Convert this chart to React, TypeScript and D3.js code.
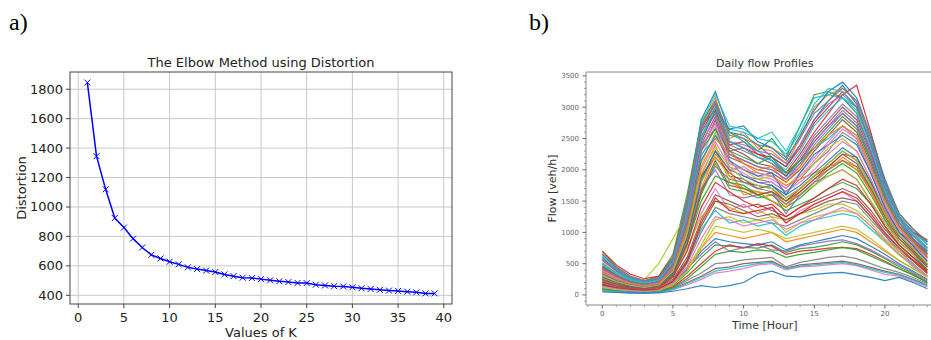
import React from "react";
import * as d3 from "d3";

// ---- panel a: elbow curve ----
const kValues = [
  1, 2, 3, 4, 5, 6, 7, 8, 9, 10, 11, 12, 13, 14, 15, 16, 17, 18, 19, 20,
  21, 22, 23, 24, 25, 26, 27, 28, 29, 30, 31, 32, 33, 34, 35, 36, 37, 38, 39,
];
const distortions = [
  1845, 1345, 1120, 925, 860, 785, 725, 675, 650, 628, 610, 590, 578, 568, 558,
  542, 530, 520, 517, 510, 502, 495, 490, 484, 483, 472, 467, 462, 460, 455,
  448, 443, 437, 432, 430, 425, 420, 413, 413,
];
const kTicks = [0, 5, 10, 15, 20, 25, 30, 35, 40];
const distTicks = [400, 600, 800, 1000, 1200, 1400, 1600, 1800];

// ---- panel b: daily flow profiles (veh/h per hour 0..23) ----
const hours = [
  0, 1, 2, 3, 4, 5, 6, 7, 8, 9, 10, 11, 12, 13, 14, 15, 16, 17, 18, 19, 20, 21, 22, 23,
];
const hourTicks = [0, 5, 10, 15, 20];
const flowTicks = [0, 500, 1000, 1500, 2000, 2500, 3000, 3500];

const profiles: number[][] = [
  [600, 380, 260, 200, 280, 600, 1500, 2800, 3250, 2600, 2550, 2400, 2200, 2050, 2400, 2800, 3100, 3350, 3050, 2400, 1700, 1250, 1000, 850],
  [520, 350, 240, 190, 250, 550, 1400, 2700, 3150, 2500, 2600, 2350, 2300, 2100, 2500, 3000, 3200, 3300, 3100, 2500, 1800, 1300, 1050, 800],
  [700, 450, 300, 230, 300, 650, 1600, 2750, 3100, 2550, 2500, 2300, 2500, 2200, 2700, 3200, 3250, 3150, 2900, 2300, 1650, 1200, 950, 750],
  [450, 300, 200, 160, 220, 500, 1300, 2600, 3000, 2400, 2450, 2250, 2150, 1950, 2250, 2600, 2900, 3200, 3350, 2600, 1800, 1250, 900, 700],
  [380, 260, 180, 140, 200, 480, 1250, 2500, 2900, 2300, 2350, 2200, 2100, 1900, 2200, 2550, 2800, 3050, 2850, 2300, 1600, 1150, 900, 650],
  [400, 280, 190, 150, 200, 450, 1200, 2300, 2800, 2200, 2100, 2000, 1950, 1800, 2000, 2300, 2550, 2800, 2600, 2100, 1500, 1100, 850, 600],
  [350, 240, 170, 130, 180, 420, 1100, 2200, 2700, 2000, 2050, 1900, 1850, 1700, 1950, 2200, 2450, 2700, 2500, 2000, 1450, 1050, 800, 580],
  [550, 380, 260, 200, 240, 500, 1300, 2400, 2650, 2150, 1900, 1850, 1800, 1650, 1850, 2100, 2300, 2600, 2450, 1950, 1400, 1000, 800, 600],
  [300, 200, 150, 120, 160, 380, 1000, 2100, 2600, 2100, 2000, 1850, 1900, 1750, 1900, 2100, 2350, 2500, 2300, 1850, 1350, 950, 750, 500],
  [480, 320, 220, 170, 210, 450, 1150, 2250, 2500, 2600, 2450, 2300, 2150, 1900, 2100, 2350, 2500, 2700, 2550, 2050, 1500, 1100, 900, 700],
  [250, 170, 120, 100, 140, 350, 900, 1800, 2300, 1900, 1850, 1700, 1750, 1550, 1700, 1900, 2100, 2300, 2150, 1750, 1300, 950, 700, 450],
  [320, 220, 160, 120, 160, 380, 950, 1900, 2400, 1800, 1700, 1650, 1600, 1450, 1650, 1850, 2000, 2200, 2050, 1650, 1200, 900, 700, 500],
  [200, 140, 100, 80, 120, 300, 800, 1600, 2100, 1700, 1650, 1550, 1600, 1400, 1550, 1750, 1950, 2100, 1950, 1600, 1200, 850, 650, 400],
  [420, 300, 210, 160, 200, 420, 1000, 1900, 2200, 1950, 1800, 1750, 1700, 1500, 1700, 1900, 2050, 2250, 2200, 1800, 1350, 1000, 850, 650],
  [280, 190, 140, 110, 150, 360, 900, 1700, 2000, 1600, 1550, 1600, 1650, 1300, 1600, 1800, 1900, 2000, 1850, 1500, 1150, 850, 650, 450],
  [200, 140, 100, 80, 110, 250, 600, 1200, 1600, 1500, 1400, 1450, 1350, 1250, 1400, 1500, 1600, 1700, 1600, 1350, 1050, 800, 600, 400],
  [260, 180, 130, 100, 130, 300, 700, 1300, 1700, 1350, 1450, 1300, 1400, 1150, 1350, 1450, 1550, 1650, 1500, 1250, 950, 700, 550, 350],
  [150, 100, 80, 60, 90, 200, 500, 1000, 1400, 1300, 1250, 1200, 1150, 1100, 1200, 1300, 1400, 1500, 1450, 1200, 950, 700, 500, 300],
  [330, 230, 160, 120, 150, 320, 750, 1250, 1500, 1400, 1300, 1350, 1250, 1200, 1300, 1350, 1450, 1450, 1350, 1150, 900, 700, 550, 400],
  [180, 120, 90, 70, 100, 230, 550, 1050, 1350, 1150, 1200, 1100, 1150, 950, 1100, 1200, 1250, 1300, 1250, 1050, 850, 650, 450, 300],
  [150, 100, 70, 60, 80, 180, 400, 700, 900, 850, 820, 800, 850, 720, 800, 850, 900, 950, 900, 780, 650, 500, 380, 250],
  [220, 150, 110, 90, 110, 220, 450, 750, 1000, 950, 900, 950, 1000, 850, 900, 950, 1000, 1050, 1000, 850, 700, 550, 420, 300],
  [120, 80, 60, 50, 70, 150, 350, 600, 800, 780, 760, 750, 800, 680, 740, 760, 800, 850, 800, 700, 580, 450, 340, 220],
  [100, 70, 55, 45, 60, 130, 300, 500, 700, 800, 750, 820, 780, 650, 700, 720, 750, 760, 740, 650, 540, 420, 320, 200],
  [180, 120, 90, 70, 90, 200, 420, 650, 850, 700, 760, 800, 720, 700, 780, 820, 860, 880, 820, 720, 600, 480, 360, 240],
  [80, 60, 45, 40, 50, 100, 200, 300, 420, 450, 500, 520, 540, 430, 480, 500, 520, 540, 500, 440, 380, 330, 250, 160],
  [60, 45, 35, 30, 40, 80, 160, 250, 350, 380, 420, 480, 500, 400, 450, 460, 480, 500, 470, 400, 330, 300, 220, 130],
  [100, 70, 50, 40, 55, 110, 230, 350, 500, 520, 560, 580, 600, 450, 520, 560, 600, 620, 580, 500, 420, 360, 280, 180],
  [300, 220, 180, 250, 500, 900, 1300, 1800, 2200, 1900, 1700, 1600, 1650, 1500, 1600, 1750, 1900, 2000, 1850, 1500, 1150, 850, 650, 450],
  [500, 350, 250, 200, 250, 550, 1400, 2600, 2900, 2650, 2600, 2500, 2600, 2300, 2700, 3150, 3200, 3150, 3000, 2400, 1750, 1250, 1000, 800],
  [650, 420, 280, 220, 260, 560, 1450, 2700, 2950, 2650, 2700, 2450, 2350, 2150, 2550, 2950, 3250, 3400, 3150, 2550, 1850, 1300, 1050, 850],
  [400, 280, 200, 160, 210, 480, 1250, 2400, 2850, 2300, 2100, 1950, 1900, 1750, 1850, 1950, 2050, 2150, 2000, 1700, 1300, 950, 750, 550],
  [240, 170, 120, 100, 130, 300, 800, 1500, 1900, 1800, 1750, 1600, 1500, 1350, 1450, 1550, 1700, 1800, 1700, 1450, 1100, 800, 600, 400],
  [700, 480, 330, 260, 300, 600, 1500, 2650, 3050, 2450, 2350, 2250, 2200, 2050, 2350, 2750, 3000, 3250, 3000, 2450, 1750, 1250, 1000, 880],
  [360, 250, 180, 140, 190, 440, 1150, 2350, 2750, 2250, 2150, 2050, 2000, 1850, 2050, 2400, 2650, 2900, 2700, 2150, 1550, 1100, 850, 620],
  [460, 320, 220, 170, 220, 480, 1200, 2450, 2950, 2350, 2250, 2100, 2050, 1900, 2150, 2500, 2750, 3000, 2800, 2250, 1600, 1150, 900, 680],
  [300, 210, 150, 120, 160, 380, 1000, 2000, 2450, 2050, 1950, 1800, 1800, 1650, 1800, 2000, 2250, 2450, 2300, 1850, 1350, 1000, 780, 520],
  [560, 390, 270, 210, 250, 520, 1350, 2550, 2900, 2400, 2300, 2200, 2100, 1950, 2150, 2450, 2700, 2950, 2750, 2200, 1600, 1150, 950, 720],
  [130, 90, 70, 55, 75, 170, 380, 750, 1100, 1050, 1000, 1050, 1000, 900, 950, 1000, 1050, 1100, 1050, 900, 720, 550, 420, 280],
  [620, 400, 270, 210, 270, 580, 1450, 2750, 3200, 2700, 2650, 2500, 2450, 2250, 2600, 3050, 3300, 3250, 3000, 2450, 1750, 1250, 1000, 820],
  [340, 230, 170, 130, 170, 400, 1050, 2150, 2550, 2150, 2000, 1900, 1950, 1600, 1950, 2250, 2400, 2550, 2400, 1950, 1400, 1000, 780, 540],
  [270, 190, 130, 100, 140, 330, 850, 1700, 2250, 2000, 1600, 1650, 1500, 1400, 1650, 1850, 2000, 2150, 2000, 1650, 1250, 900, 680, 460],
  [440, 300, 210, 170, 210, 460, 1150, 2300, 2650, 2300, 2200, 2100, 2200, 1950, 2150, 2350, 2600, 2850, 2650, 2150, 1550, 1100, 880, 650],
  [210, 150, 110, 90, 120, 280, 700, 1400, 1800, 1650, 1500, 1400, 1450, 1250, 1400, 1550, 1700, 1850, 1750, 1450, 1100, 800, 600, 380],
  [580, 400, 280, 220, 260, 540, 1400, 2650, 3100, 2450, 2400, 2300, 2250, 2100, 2400, 2800, 3050, 3200, 3000, 2400, 1700, 1200, 980, 760],
  [160, 110, 80, 65, 90, 210, 520, 1100, 1500, 1450, 1350, 1250, 1300, 1200, 1300, 1400, 1500, 1550, 1500, 1250, 980, 740, 540, 340],
  [390, 270, 190, 150, 200, 460, 1200, 2350, 2750, 2100, 2000, 1950, 1900, 1700, 1900, 2150, 2400, 2650, 2500, 2000, 1450, 1050, 820, 590],
  [230, 160, 120, 95, 130, 320, 820, 1650, 2050, 1850, 1800, 1700, 1650, 1450, 1600, 1800, 2000, 2150, 2050, 1700, 1300, 950, 720, 480],
  [120, 85, 65, 50, 70, 160, 380, 800, 1200, 1250, 1150, 1200, 1250, 1000, 1150, 1250, 1300, 1350, 1300, 1100, 850, 640, 470, 300],
  [500, 340, 240, 190, 240, 520, 1300, 2500, 3000, 2450, 2350, 2200, 2150, 2000, 2300, 2700, 2950, 3150, 2950, 2350, 1650, 1200, 950, 740],
  [290, 200, 140, 110, 150, 350, 900, 1850, 2300, 2000, 1900, 1800, 1750, 1600, 1750, 1950, 2150, 2350, 2200, 1800, 1300, 950, 720, 480],
  [350, 250, 180, 140, 180, 420, 1050, 2050, 2500, 2250, 2100, 2000, 2050, 1800, 2050, 2350, 2550, 2700, 2550, 2050, 1500, 1080, 840, 600],
  [90, 65, 50, 40, 55, 120, 260, 450, 650, 700, 680, 720, 700, 600, 650, 680, 720, 760, 720, 620, 520, 420, 320, 200],
  [170, 120, 90, 70, 95, 220, 550, 1150, 1550, 1350, 1300, 1350, 1400, 1150, 1300, 1450, 1550, 1650, 1550, 1300, 1000, 760, 560, 360],
  [430, 300, 210, 165, 210, 460, 1200, 2400, 2850, 2250, 2150, 2050, 2000, 1850, 2100, 2450, 2700, 2900, 2700, 2200, 1600, 1150, 900, 660],
  [250, 175, 125, 100, 135, 320, 820, 1650, 2150, 1750, 1700, 1600, 1650, 1500, 1650, 1850, 2050, 2250, 2100, 1700, 1250, 900, 680, 440],
  [140, 100, 75, 60, 80, 190, 450, 900, 1250, 1200, 1100, 1150, 1200, 1050, 1150, 1200, 1300, 1400, 1300, 1100, 880, 660, 480, 300],
  [660, 440, 300, 230, 280, 580, 1500, 2700, 3050, 2600, 2500, 2400, 2350, 2200, 2500, 2900, 3100, 3300, 3100, 2500, 1800, 1300, 1050, 860],
  [310, 215, 155, 120, 160, 380, 980, 1950, 2350, 2050, 1850, 1750, 1700, 1550, 1700, 1900, 2100, 2300, 2150, 1750, 1300, 960, 740, 500],
  [80, 55, 45, 35, 45, 90, 180, 280, 380, 420, 460, 500, 520, 420, 460, 480, 500, 520, 480, 420, 360, 320, 240, 150],
  [50, 40, 30, 30, 35, 60, 100, 150, 120, 150, 200, 330, 380, 300, 290, 330, 350, 360, 320, 280, 230, 280, 200, 100],
];

const tab10 = d3.schemeCategory10;

const ElbowPanel = () => {
  const left = 70, right = 452, top = 72, bottom = 304;
  const x = d3.scaleLinear().domain([-0.9, 40.9]).range([left, right]);
  const y = d3.scaleLinear().domain([341, 1917]).range([bottom, top]);
  const line = d3
    .line<number>()
    .x((_, i) => x(kValues[i]))
    .y((d) => y(d));
  const font = "DejaVu Sans, sans-serif";

  return (
    <g fontFamily={font}>
      <text x={9} y={30} fontFamily="Liberation Serif, serif" fontSize={24} fill="#000">
        a)
      </text>
      <text x={(left + right) / 2} y={67} textAnchor="middle" fontSize={13} fill="#222">
        The Elbow Method using Distortion
      </text>
      {kTicks.map((t) => (
        <line key={"gx" + t} x1={x(t)} x2={x(t)} y1={top} y2={bottom} stroke="#c8c8c8" strokeWidth={1} />
      ))}
      {distTicks.map((t) => (
        <line key={"gy" + t} x1={left} x2={right} y1={y(t)} y2={y(t)} stroke="#c8c8c8" strokeWidth={1} />
      ))}
      <path d={line(distortions) ?? ""} fill="none" stroke="#0000ff" strokeWidth={1.5} />
      {distortions.map((d, i) => {
        const cx = x(kValues[i]);
        const cy = y(d);
        const s = 3;
        return (
          <path
            key={"m" + i}
            d={`M${cx - s},${cy - s}L${cx + s},${cy + s}M${cx - s},${cy + s}L${cx + s},${cy - s}`}
            stroke="#0000ff"
            strokeWidth={1}
          />
        );
      })}
      <rect x={left} y={top} width={right - left} height={bottom - top} fill="none" stroke="#444" strokeWidth={1} />
      {kTicks.map((t) => (
        <g key={"tx" + t}>
          <line x1={x(t)} x2={x(t)} y1={bottom} y2={bottom + 4} stroke="#444" />
          <text x={x(t)} y={bottom + 18} textAnchor="middle" fontSize={13} fill="#222">
            {t}
          </text>
        </g>
      ))}
      {distTicks.map((t) => (
        <g key={"ty" + t}>
          <line x1={left - 4} x2={left} y1={y(t)} y2={y(t)} stroke="#444" />
          <text x={left - 7} y={y(t) + 4.5} textAnchor="end" fontSize={13} fill="#222">
            {t}
          </text>
        </g>
      ))}
      <text x={(left + right) / 2} y={337} textAnchor="middle" fontSize={13} fill="#222">
        Values of K
      </text>
      <text
        transform={`translate(26,${(top + bottom) / 2}) rotate(-90)`}
        textAnchor="middle"
        fontSize={13}
        fill="#222"
      >
        Distortion
      </text>
    </g>
  );
};

const FlowPanel = () => {
  const left = 586, right = 943.6, top = 72, bottom = 305;
  const x = d3.scaleLinear().domain([-1.15, 24.15]).range([left, right]);
  const y = d3.scaleLinear().domain([-160, 3562]).range([bottom, top]);
  const line = d3
    .line<number>()
    .x((_, i) => x(hours[i]))
    .y((d) => y(d));
  const font = "DejaVu Sans, sans-serif";
  const minorY = d3.range(-100, 3600, 100).filter((v) => v % 500 !== 0);
  const minorX = d3.range(-1, 25, 1).filter((v) => v % 5 !== 0);

  return (
    <g fontFamily={font}>
      <text x={529} y={30} fontFamily="Liberation Serif, serif" fontSize={24} fill="#000">
        b)
      </text>
      <text x={(left + right) / 2} y={67} textAnchor="middle" fontSize={11} fill="#333">
        Daily flow Profiles
      </text>
      {profiles.map((p, i) => (
        <path
          key={"p" + i}
          d={line(p) ?? ""}
          fill="none"
          stroke={tab10[i % 10]}
          strokeWidth={1.2}
          strokeOpacity={0.9}
        />
      ))}
      <line x1={left} x2={right} y1={top} y2={top} stroke="#888" strokeWidth={1} />
      <line x1={left} x2={left} y1={top} y2={bottom} stroke="#888" strokeWidth={1} />
      <line x1={left} x2={right} y1={bottom} y2={bottom} stroke="#888" strokeWidth={1} />
      {minorY.map((t) => (
        <line key={"my" + t} x1={left - 2} x2={left} y1={y(t)} y2={y(t)} stroke="#999" />
      ))}
      {minorX.map((t) => (
        <line key={"mx" + t} x1={x(t)} x2={x(t)} y1={bottom} y2={bottom + 2} stroke="#999" />
      ))}
      {flowTicks.map((t) => (
        <g key={"ty" + t}>
          <line x1={left - 3.5} x2={left} y1={y(t)} y2={y(t)} stroke="#666" />
          <text x={left - 7} y={y(t) + 2.5} textAnchor="end" fontSize={7} fill="#666">
            {t}
          </text>
        </g>
      ))}
      {hourTicks.map((t) => (
        <g key={"tx" + t}>
          <line x1={x(t)} x2={x(t)} y1={bottom} y2={bottom + 3.5} stroke="#666" />
          <text x={x(t)} y={bottom + 10.5} textAnchor="middle" fontSize={7} fill="#666">
            {t}
          </text>
        </g>
      ))}
      <text x={(left + right) / 2} y={329} textAnchor="middle" fontSize={11} fill="#333">
        Time [Hour]
      </text>
      <text
        transform={`translate(556,${(top + bottom) / 2}) rotate(-90)`}
        textAnchor="middle"
        fontSize={11}
        fill="#333"
      >
        Flow [veh/h]
      </text>
    </g>
  );
};

export default function App() {
  return (
    <svg
      width={931}
      height={340}
      style={{ position: "absolute", left: 0, top: 0, background: "#fff" }}
    >
      <ElbowPanel />
      <FlowPanel />
    </svg>
  );
}
